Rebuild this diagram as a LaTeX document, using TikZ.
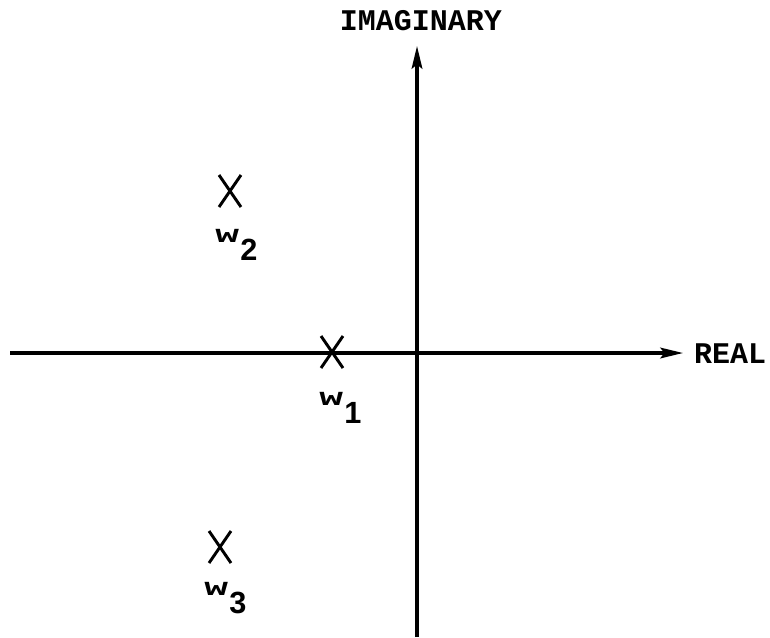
\documentclass[tikz,border=0pt]{standalone}
\usepackage{fontspec}
\setmainfont{Liberation Mono}
\newfontfamily\subfont{Liberation Sans}
\usetikzlibrary{arrows.meta}
\newcommand{\wsub}[1]{\scalebox{1.35}[0.85]{w}\hspace{1pt}\raisebox{-13.5pt}{\subfont\bfseries\fontsize{23}{25}\selectfont #1}}
\begin{document}
\begin{tikzpicture}[x=0.75pt,y=-0.75pt,
  axis/.style={line width=2.3pt,-{Stealth[length=17pt,width=8pt,inset=3pt]}},
  lbl/.style={font=\fontsize{22.5}{26}\selectfont\bfseries, inner sep=0pt},
  wlbl/.style={font=\fontsize{22}{26}\selectfont\bfseries, inner sep=0pt, anchor=base west},
  xmark/.style={line width=2.2pt}]
\useasboundingbox (0,0) rectangle (770,637);
\coordinate (xl) at (10,353);
\coordinate (xr) at (683,353);
\coordinate (yb) at (417,637);
\coordinate (yt) at (417,46);
\draw[axis] (xl) -- (xr);
\draw[axis] (yb) -- (yt);
\node[lbl] (im) at (421,21) {IMAGINARY};
\node[lbl] (re) at (730,354) {REAL};
% poles
\foreach \n/\x/\y in {w2/230/191, w1/332/352, w3/220/547}{
  \coordinate (\n) at (\x,\y);
  \draw[xmark] (\x-11,\y-16) -- (\x+11,\y+16);
  \draw[xmark] (\x+11,\y-16) -- (\x-11,\y+16);
}
\node[wlbl] (l2) at (215,242) {\wsub{2}};
\node[wlbl] (l1) at (319,405) {\wsub{1}};
\node[wlbl] (l3) at (204,595) {\wsub{3}};
\end{tikzpicture}
\end{document}
